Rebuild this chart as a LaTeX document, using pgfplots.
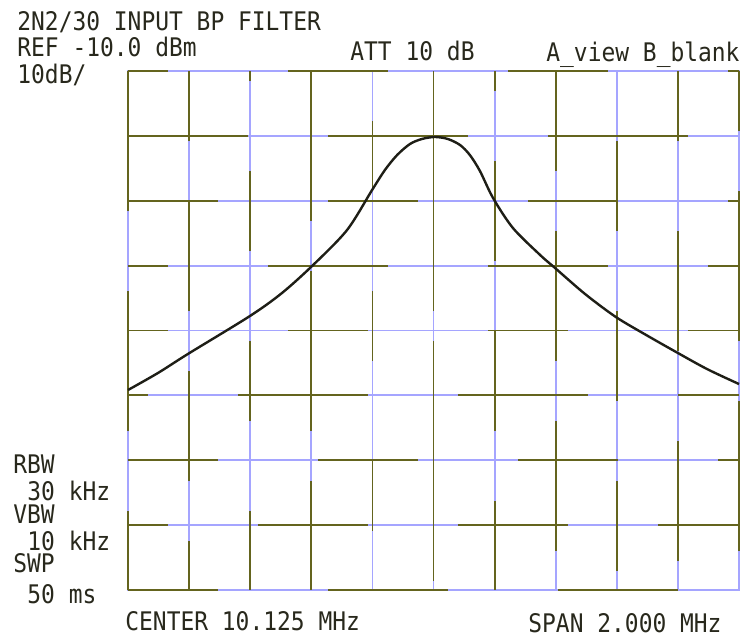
\documentclass[border=0pt]{standalone}
\usepackage{pgfplots}
\pgfplotsset{compat=1.18}
\usepackage{fontspec}
\newfontfamily\lcd[FakeStretch=0.895]{DejaVu Sans Mono}
\definecolor{gridblue}{RGB}{165,165,255}
\definecolor{gridolive}{RGB}{100,100,30}
\definecolor{ink}{RGB}{40,40,28}
\definecolor{curvecol}{RGB}{30,30,22}

\begin{document}
\begin{tikzpicture}
\useasboundingbox (0,0) rectangle (371.5pt,319.5pt);
\begin{axis}[
  at={(64pt,24.5pt)}, anchor=south west,
  scale only axis, width=305.5pt, height=259.5pt,
  xmin=9.125, xmax=11.125, ymin=-90, ymax=-10,
  xtick={9.125,9.325,9.525,9.725,9.925,10.125,10.325,10.525,10.725,10.925,11.125},
  ytick={-90,-80,-70,-60,-50,-40,-30,-20,-10},
  xticklabels={}, yticklabels={},
  major tick length=0pt,
  grid=major,
  major grid style={gridblue, line width=0.9pt},
  axis line style={gridblue, line width=0.9pt},
  clip=false,
]
% olive overlay segments on grid (scanned printer look)
\tikzset{ol/.style={gridolive, line width=0.9pt}}
\draw[ol, dash pattern=on 70pt off 40pt, dash phase=0pt]  (axis cs:9.125,-10) -- (axis cs:9.125,-90);
\draw[ol, dash pattern=on 55pt off 30pt, dash phase=20pt] (axis cs:9.325,-10) -- (axis cs:9.325,-90);
\draw[ol, dash pattern=on 40pt off 45pt, dash phase=35pt] (axis cs:9.525,-10) -- (axis cs:9.525,-90);
\draw[ol, dash pattern=on 80pt off 25pt, dash phase=5pt]  (axis cs:9.725,-10) -- (axis cs:9.725,-90);
\draw[ol, dash pattern=on 35pt off 50pt, dash phase=60pt] (axis cs:9.925,-10) -- (axis cs:9.925,-90);
\draw[ol, dash pattern=on 120pt off 15pt, dash phase=0pt] (axis cs:10.125,-10) -- (axis cs:10.125,-90);
\draw[ol, dash pattern=on 50pt off 35pt, dash phase=40pt] (axis cs:10.325,-10) -- (axis cs:10.325,-90);
\draw[ol, dash pattern=on 65pt off 30pt, dash phase=15pt] (axis cs:10.525,-10) -- (axis cs:10.525,-90);
\draw[ol, dash pattern=on 45pt off 40pt, dash phase=50pt] (axis cs:10.725,-10) -- (axis cs:10.725,-90);
\draw[ol, dash pattern=on 60pt off 45pt, dash phase=25pt] (axis cs:10.925,-10) -- (axis cs:10.925,-90);
\draw[ol, dash pattern=on 75pt off 30pt, dash phase=45pt] (axis cs:11.125,-10) -- (axis cs:11.125,-90);
\draw[ol, dash pattern=on 50pt off 60pt, dash phase=30pt] (axis cs:9.125,-10) -- (axis cs:11.125,-10);
\draw[ol, dash pattern=on 70pt off 40pt, dash phase=10pt] (axis cs:9.125,-20) -- (axis cs:11.125,-20);
\draw[ol, dash pattern=on 45pt off 55pt, dash phase=0pt]  (axis cs:9.125,-30) -- (axis cs:11.125,-30);
\draw[ol, dash pattern=on 60pt off 50pt, dash phase=40pt] (axis cs:9.125,-40) -- (axis cs:11.125,-40);
\draw[ol, dash pattern=on 40pt off 60pt, dash phase=20pt] (axis cs:9.125,-50) -- (axis cs:11.125,-50);
\draw[ol, dash pattern=on 65pt off 45pt, dash phase=55pt] (axis cs:9.125,-60) -- (axis cs:11.125,-60);
\draw[ol, dash pattern=on 50pt off 50pt, dash phase=5pt]  (axis cs:9.125,-70) -- (axis cs:11.125,-70);
\draw[ol, dash pattern=on 55pt off 45pt, dash phase=35pt] (axis cs:9.125,-80) -- (axis cs:11.125,-80);
\draw[ol, dash pattern=on 60pt off 55pt, dash phase=15pt] (axis cs:9.125,-90) -- (axis cs:11.125,-90);

\addplot[smooth, tension=0.5, curvecol, line width=1.2pt] coordinates {
(9.125,-59.17) (9.223,-56.55) (9.321,-53.62) (9.524,-47.77) (9.629,-44.22)
(9.731,-39.90) (9.842,-34.51) (9.924,-28.34) (9.966,-25.26) (10.006,-22.95)
(10.048,-21.25) (10.087,-20.48) (10.130,-20.17) (10.172,-20.48) (10.212,-21.41)
(10.244,-22.95) (10.277,-25.41) (10.320,-29.58) (10.385,-34.20) (10.474,-38.36)
(10.523,-40.37) (10.621,-44.37) (10.722,-47.92) (10.821,-50.69) (10.919,-53.31)
(11.020,-55.93) (11.125,-58.25)
};
\end{axis}
\tikzset{lbl/.style={anchor=base west, inner sep=0pt, text=ink, font=\lcd\fontsize{12.8pt}{14pt}\selectfont}}
\node[lbl] at (8.5pt,304pt) {2N2/30 INPUT BP FILTER};
\node[lbl] at (8.5pt,291pt) {REF -10.0 dBm};
\node[lbl] at (8.5pt,278pt) {10dB/};
\node[lbl] at (175pt,289.5pt) {ATT 10 dB};
\node[lbl] at (273pt,288.5pt) {A\_view B\_blank};
\node[lbl] at (6.5pt,83pt) {RBW};
\node[lbl] at (13.5pt,69.5pt) {30 kHz};
\node[lbl] at (6.5pt,58pt) {VBW};
\node[lbl] at (13.5pt,44.5pt) {10 kHz};
\node[lbl] at (6.5pt,33.5pt) {SWP};
\node[lbl] at (13.5pt,18pt) {50 ms};
\node[lbl] at (62.5pt,4.5pt) {CENTER 10.125 MHz};
\node[lbl] at (264pt,3.5pt) {SPAN 2.000 MHz};
\end{tikzpicture}
\end{document}
